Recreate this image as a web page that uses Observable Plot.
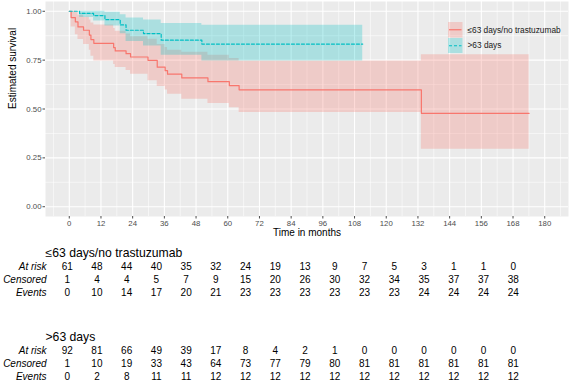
<!DOCTYPE html>
<html>
<head>
<meta charset="utf-8">
<script src="https://cdn.jsdelivr.net/npm/d3@7"></script>
<script src="https://cdn.jsdelivr.net/npm/@observablehq/plot@0.6"></script>
<style>
  html, body { margin: 0; padding: 0; background: white; }
  #wrap { position: relative; width: 570px; height: 383px; overflow: hidden; font-family: "Liberation Sans", Arial, Helvetica, sans-serif; }
  #wrap svg { display: block; }
  #legend { position: absolute; left: 448px; top: 22px; font-size: 8.3px; color: #1a1a1a; }
  .lrow { display: flex; align-items: center; height: 15.5px; }
  .lrow svg { margin-right: 5px; }
</style>
</head>
<body>
<div id="wrap"></div>
<script>
// ---------- data ----------
const groups = ["≤63 days/no trastuzumab", ">63 days"];
const colors = ["#F8766D", "#00BFC4"];

// Kaplan-Meier step curve, group 1 (≤63 days/no trastuzumab)
const redTime  = [0, 0.7, 2.3, 3.3, 5.4, 7.6, 8.2, 9.3, 16.8, 17.4, 21.5, 23.2, 29.8, 33.3, 36.3, 37.2, 42.6, 52.5, 60.6, 64.3, 133.3, 174.1];
const redSurv  = [1, 0.968, 0.946, 0.920, 0.903, 0.878, 0.855, 0.836, 0.814, 0.797, 0.783, 0.766, 0.749, 0.714, 0.696, 0.678, 0.659, 0.640, 0.620, 0.598, 0.478, 0.478];
const redLower = [1, 0.92, 0.88, 0.855, 0.83, 0.80, 0.77, 0.745, 0.728, 0.712, 0.697, 0.678, 0.645, 0.615, 0.597, 0.575, 0.55, 0.528, 0.507, 0.482, 0.294, 0.294];
const redUpper = [1, 1, 0.995, 0.98, 0.97, 0.955, 0.94, 0.93, 0.912, 0.898, 0.884, 0.87, 0.857, 0.83, 0.815, 0.80, 0.79, 0.775, 0.758, 0.746, 0.778, 0.778];

// group 2 (>63 days)
const tealTime  = [0, 3.9, 9.2, 13.5, 19.3, 21.5, 28.1, 34.8, 50.2, 111.1];
const tealSurv  = [1, 0.989, 0.978, 0.957, 0.930, 0.903, 0.886, 0.852, 0.832, 0.832];
const tealLower = [1, 0.968, 0.95, 0.925, 0.885, 0.845, 0.822, 0.775, 0.745, 0.745];
const tealUpper = [1, 1, 1, 0.995, 0.982, 0.965, 0.955, 0.937, 0.928, 0.928];

// axes
const xTicks = [0, 12, 24, 36, 48, 60, 72, 84, 96, 108, 120, 132, 144, 156, 168, 180];
const xMinor = [-6, 6, 18, 30, 42, 54, 66, 78, 90, 102, 114, 126, 138, 150, 162, 174, 186];
const yTicks = [0, 0.25, 0.5, 0.75, 1];
const yMinor = [0.125, 0.375, 0.625, 0.875];
const xTitle = "Time in months";
const yTitle = "Estimated survival";

// risk tables
const rowNames = ["At risk", "Censored", "Events"];
const riskRed  = [61, 48, 44, 40, 35, 32, 24, 19, 13, 9, 7, 5, 3, 1, 1, 0];
const censRed  = [1, 4, 4, 5, 7, 9, 15, 20, 26, 30, 32, 34, 35, 37, 37, 38];
const evRed    = [0, 10, 14, 17, 20, 21, 23, 23, 23, 23, 23, 23, 24, 24, 24, 24];
const riskTeal = [92, 81, 66, 49, 39, 17, 8, 4, 2, 1, 0, 0, 0, 0, 0, 0];
const censTeal = [1, 10, 19, 33, 43, 64, 73, 77, 79, 80, 81, 81, 81, 81, 81, 81];
const evTeal   = [0, 2, 8, 11, 11, 12, 12, 12, 12, 12, 12, 12, 12, 12, 12, 12];

// ---------- build ----------
const font = '"Liberation Sans", Arial, Helvetica, sans-serif';
const toRows = (t, s, lo, hi) => t.map((d, i) => ({t: d, s: s[i], lo: lo[i], hi: hi[i]}));
const red = toRows(redTime, redSurv, redLower, redUpper);
const teal = toRows(tealTime, tealSurv, tealLower, tealUpper);

const main = Plot.plot({
  width: 570, height: 243,
  marginLeft: 45, marginRight: 2, marginTop: 1, marginBottom: 27,
  style: {fontFamily: font, background: "transparent", overflow: "visible"},
  x: {domain: [-9, 189], label: null},
  y: {domain: [-0.05, 1.05], label: null},
  marks: [
    Plot.frame({fill: "#EBEBEB", stroke: null}),
    Plot.gridX(xMinor, {stroke: "white", strokeOpacity: 1, strokeWidth: 0.55}),
    Plot.gridY(yMinor, {stroke: "white", strokeOpacity: 1, strokeWidth: 0.55}),
    Plot.gridX(xTicks, {stroke: "white", strokeOpacity: 1, strokeWidth: 1.1}),
    Plot.gridY(yTicks, {stroke: "white", strokeOpacity: 1, strokeWidth: 1.1}),
    Plot.areaY(red, {x: "t", y1: "lo", y2: "hi", curve: "step-after", fill: colors[0], fillOpacity: 0.27}),
    Plot.areaY(teal, {x: "t", y1: "lo", y2: "hi", curve: "step-after", fill: colors[1], fillOpacity: 0.27}),
    Plot.line(red, {x: "t", y: "s", curve: "step-after", stroke: colors[0], strokeWidth: 1.2}),
    Plot.line(teal, {x: "t", y: "s", curve: "step-after", stroke: colors[1], strokeWidth: 1.2, strokeDasharray: "3,2"}),
    Plot.axisX(xTicks, {tickSize: 2.5, tickPadding: 1.5, fontSize: 7.8, color: "#4D4D4D", label: null}),
    Plot.axisY(yTicks, {tickSize: 2.5, tickPadding: 1.5, fontSize: 7.8, color: "#4D4D4D", label: null, tickFormat: d3.format(".2f")}),
    Plot.text([xTitle], {frameAnchor: "bottom", dy: 19, fontSize: 10, fill: "black"}),
    Plot.text([yTitle], {frameAnchor: "left", dx: -33, rotate: -90, fontSize: 10, fill: "black"})
  ]
});

function riskTable(title, vals, h) {
  const cells = [];
  rowNames.forEach((r, j) => vals[j].forEach((v, i) => cells.push({row: r, t: xTicks[i], v})));
  return Plot.plot({
    width: 570, height: h,
    marginLeft: 66.7, marginRight: 57.3, marginTop: 0, marginBottom: 0,
    style: {fontFamily: font, background: "transparent", overflow: "visible"},
    x: {domain: [0, 180], axis: null},
    y: {type: "point", domain: ["title", ...rowNames], range: [9.7, 49.5], padding: 0, axis: null},
    marks: [
      Plot.text([title], {y: () => "title", frameAnchor: "left", dx: -21.7, textAnchor: "start", fontSize: 12.2, fill: "black"}),
      Plot.text(rowNames, {y: d => d, frameAnchor: "left", dx: -20.7, textAnchor: "end", fontSize: 10, fontStyle: "italic", fill: "black"}),
      Plot.text(cells, {x: "t", y: "row", text: "v", fontSize: 10, fill: "black"})
    ]
  });
}

const wrap = document.getElementById("wrap");
wrap.appendChild(main);
wrap.appendChild(riskTable(groups[0], [riskRed, censRed, evRed], 84));
wrap.appendChild(riskTable(groups[1], [riskTeal, censTeal, evTeal], 56));

// legend (inside panel, top right)
const legend = document.createElement("div");
legend.id = "legend";
groups.forEach((g, i) => {
  const row = document.createElement("div");
  row.className = "lrow";
  const svg = d3.create("svg").attr("width", 14.5).attr("height", 15.5);
  svg.append("rect").attr("width", 14.5).attr("height", 15.5).attr("fill", colors[i]).attr("fill-opacity", 0.27);
  svg.append("line").attr("x1", 1).attr("x2", 13.5).attr("y1", 7.75).attr("y2", 7.75)
    .attr("stroke", colors[i]).attr("stroke-width", 1.2)
    .attr("stroke-dasharray", i === 1 ? "3,2" : null);
  row.appendChild(svg.node());
  const span = document.createElement("span");
  span.textContent = g;
  row.appendChild(span);
  legend.appendChild(row);
});
wrap.appendChild(legend);
</script>
</body>
</html>
